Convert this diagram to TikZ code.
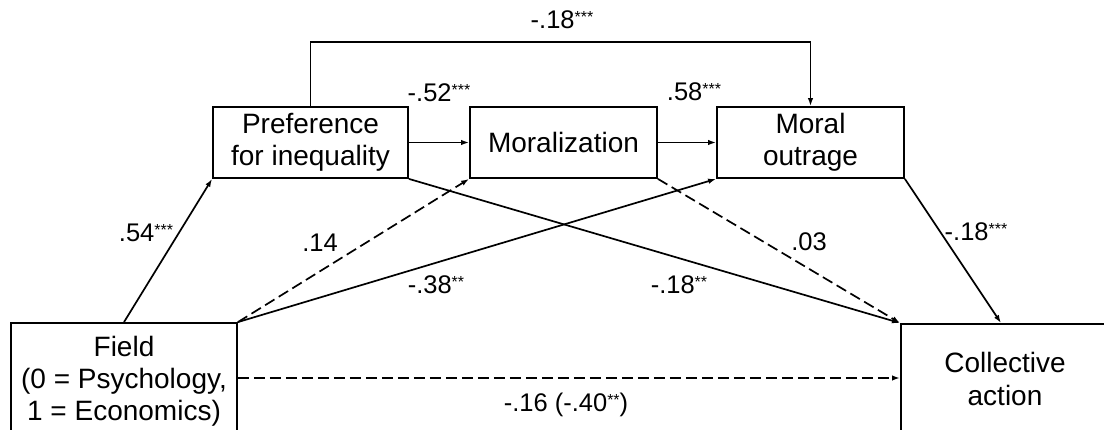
\documentclass[tikz,border=0pt]{standalone}
\usepackage{fontspec}
\setmainfont{Liberation Sans}
\usetikzlibrary{arrows.meta,calc}
\newcommand\sigst[1]{\raisebox{6.5pt}{\fontsize{16}{16}\selectfont #1}}
\begin{document}
\begin{tikzpicture}[x=1pt,y=-1pt,
  box/.style={draw,line width=1.8pt,inner sep=0pt,align=center,font=\fontsize{28}{32}\selectfont},
  txt/.style={inner sep=0pt,align=center,font=\fontsize{28}{33}\selectfont},
  lbl/.style={font=\fontsize{25.5}{28}\selectfont,inner sep=0pt},
  conn/.style={line width=1.7pt,-{Latex[length=8pt,width=5.5pt]}},
  dsh/.style={conn,dash pattern=on 11pt off 5pt}]
\useasboundingbox (0,0) rectangle (1104,430);
\clip (0,0) rectangle (1104,430);
% boxes
\node[box,minimum width=195pt,minimum height=71pt] (pref) at (310.5,142.5) {Preference\\for inequality};
\node[box,minimum width=187pt,minimum height=71pt] (moral) at (563.5,142.5) {Moralization};
\node[box,minimum width=187pt,minimum height=71pt] (outrage) at (810.5,142.5) {Moral\\outrage};
\node[box,minimum width=226pt,minimum height=116pt] (field) at (124,381) {Field\\(0 = Psychology,\\1 = Economics)};
\node[draw,line width=1.8pt,inner sep=0pt,minimum width=250pt,minimum height=150pt,anchor=north west] (coll) at (900,323) {};
\node[txt] (colltext) at (1005,379) {Collective\\action};
\coordinate (collin) at ($(coll.north west)+(101,0)$);
\coordinate (dashy) at (0,378);
% connectors
\draw[conn] (pref.north) -- ++(0,-64) -| (outrage.north);
\draw[conn] (pref) -- (moral);
\draw[conn] (moral) -- (outrage);
\draw[conn] (field.north) -- (pref.south west);
\draw[dsh] (field.north east) -- (moral.south west);
\draw[conn] (field.north east) -- (outrage.south west);
\draw[conn] (pref.south east) -- (coll.north west);
\draw[dsh] (moral.south east) -- (coll.north west);
\draw[conn] (outrage.south east) -- (collin);
\draw[dsh] (field.east |- dashy) -- (coll.west |- dashy);
% labels
\node[lbl] (l1) at (562,20) {-.18\sigst{***}};
\node[lbl] (l2) at (439,93) {-.52\sigst{***}};
\node[lbl] (l3) at (694,92) {.58\sigst{***}};
\node[lbl] (l4) at (146,233) {.54\sigst{***}};
\node[lbl] (l5) at (320,243) {.14};
\node[lbl] (l6) at (436,285) {-.38\sigst{**}};
\node[lbl] (l7) at (809,242) {.03};
\node[lbl] (l8) at (679,285) {-.18\sigst{**}};
\node[lbl] (l9) at (976,232) {-.18\sigst{***}};
\node[lbl] (l10) at (566,405) {-.16 (-.40\sigst{**})};
\end{tikzpicture}
\end{document}
